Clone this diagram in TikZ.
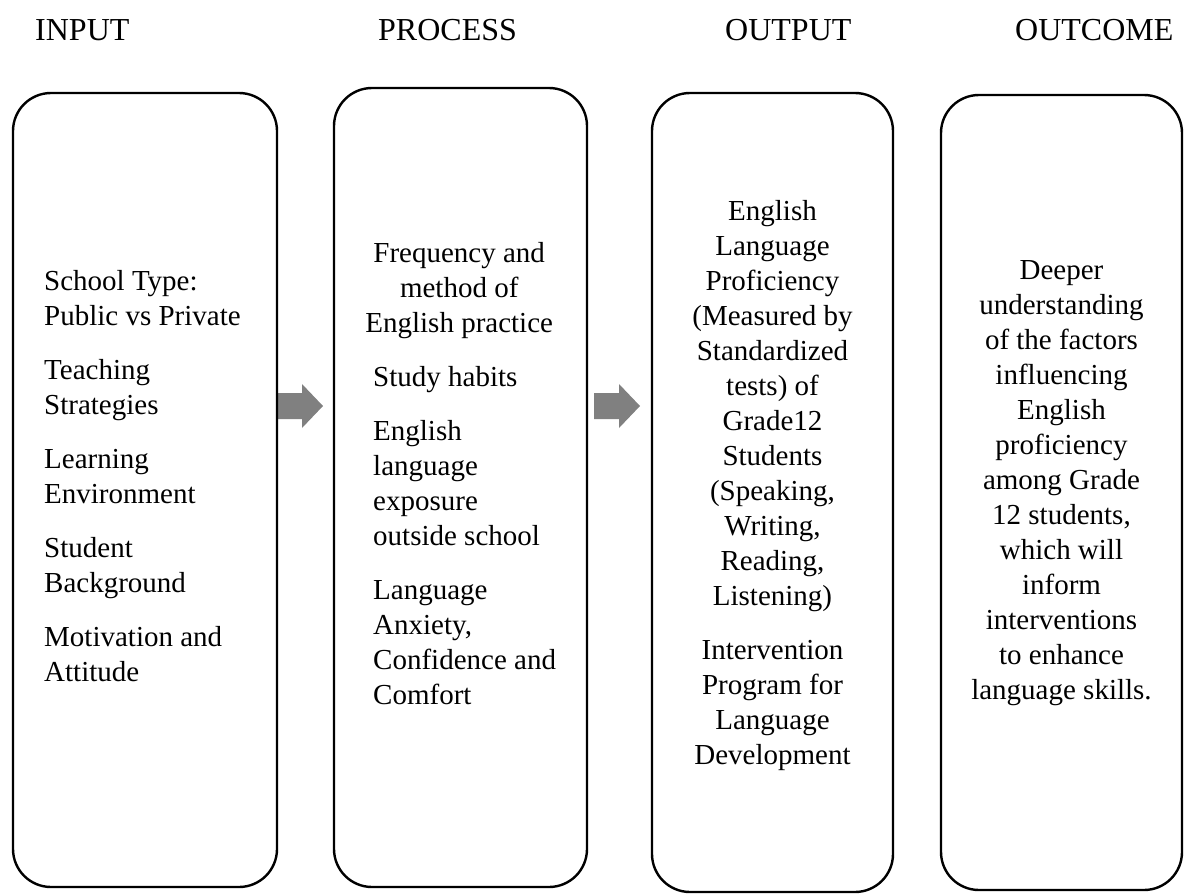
\documentclass[tikz,border=0pt]{standalone}
\usepackage{fontspec}
\setmainfont{Liberation Serif}
\begin{document}
\begin{tikzpicture}[x=1pt, y=-1pt,
        stage/.style={draw, line width=2.4pt, rounded corners=38pt, inner sep=0pt},
        heading/.style={anchor=base west, inner sep=0pt, font=\fontsize{32pt}{38pt}\selectfont},
        body/.style={inner sep=0pt, font=\fontsize{29pt}{35pt}\selectfont},
        flowarrow/.style={fill=gray, draw=none}]
            \useasboundingbox (0,0) rectangle (1194,894);
            % headings
            \node[heading] (hin) at (35,40) {INPUT};
            \node[heading] (hproc) at (378,40) {PROCESS};
            \node[heading] (hout) at (725,40) {OUTPUT};
            \node[heading] (hcome) at (1015,40) {OUTCOME};
            % arrows between the boxes
            \coordinate (arr1) at (277,406);
            \coordinate (arr2) at (594,406);
            \foreach \a in {arr1,arr2}
                \fill[flowarrow] (\a) ++(0,-13) -- ++(25,0) -- ++(0,-9) -- ++(21,22)
                    -- ++(-21,22) -- ++(0,-9) -- ++(-25,0) -- cycle;
            % boxes
            \node[stage, minimum width=264pt, minimum height=794pt] (input) at (145,490) {};
            \node[stage, minimum width=253pt, minimum height=799pt] (process) at (460.5,487.5) {};
            \node[stage, minimum width=241pt, minimum height=799pt] (output) at (772.5,492.5) {};
            \node[stage, minimum width=241pt, minimum height=795pt] (outcome) at (1061.5,492.5) {};
            % texts
            \node[body, anchor=west, align=left] (intext) at (44,476) {School Type:\\ Public vs Private\\[19pt]
                Teaching\\ Strategies\\[19pt] Learning\\ Environment\\[19pt] Student\\ Background\\[19pt]
                Motivation and\\ Attitude};
            \node[body, anchor=west, align=left] (proctext) at (373,474) {\makebox[172pt]{Frequency and}\\
                \makebox[172pt]{method of}\\ \makebox[172pt]{English practice}\\[19pt] Study habits\\[19pt]
                English\\ language\\ exposure\\ outside school\\[19pt] Language\\ Anxiety,\\
                Confidence and\\ Comfort};
            \node[body, align=center] (outtext) at (772.5,486) {English\\ Language\\ Proficiency\\
                (Measured by\\ Standardized\\ tests) of\\ Grade12\\ Students\\ (Speaking,\\ Writing,\\
                Reading,\\ Listening)\\[19pt] Intervention\\ Program for\\ Language\\ Development};
            \node[body, align=center] (cometext) at (1061.5,483.5) {Deeper\\ understanding\\ of the factors\\
                influencing\\ English\\ proficiency\\ among Grade\\ 12 students,\\ which will\\ inform\\
                interventions\\ to enhance\\ language skills.};
        \end{tikzpicture}
\end{document}
